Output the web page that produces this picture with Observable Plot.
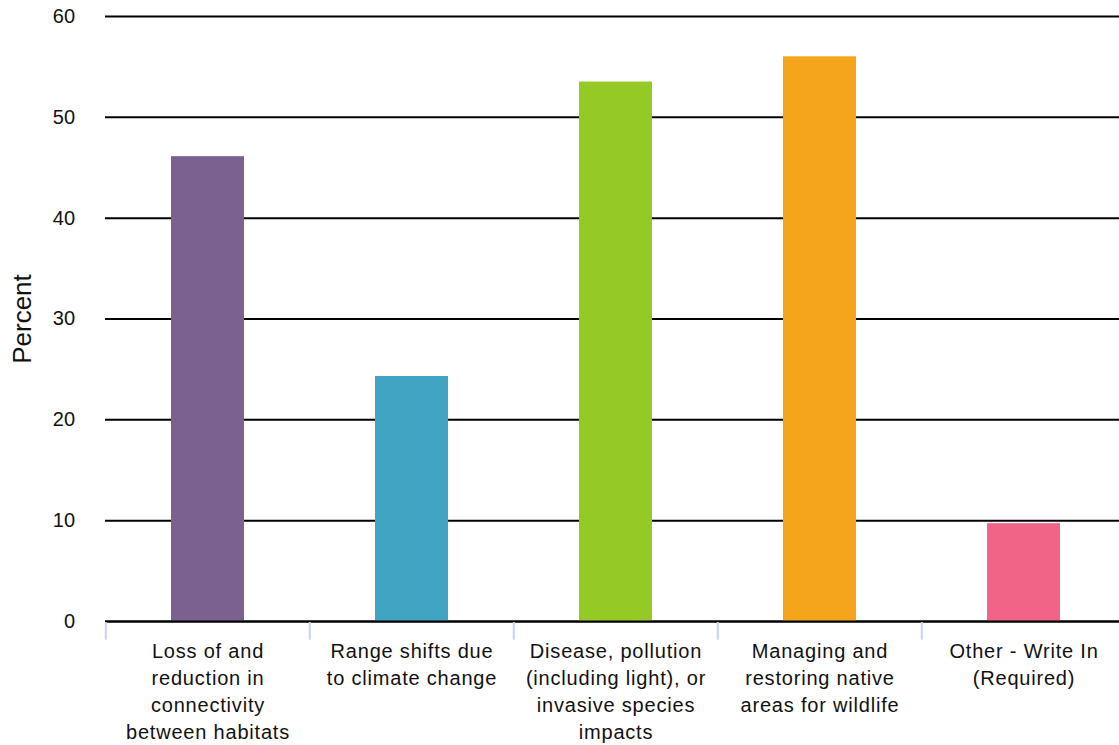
<!DOCTYPE html>
<html>
<head>
<meta charset="utf-8">
<script src="https://cdn.jsdelivr.net/npm/d3@7"></script>
<script src="https://cdn.jsdelivr.net/npm/@observablehq/plot@0.6"></script>
<style>
  html, body { margin: 0; padding: 0; background: #fff; overflow: hidden; }
  #chart svg { display: block; }
  #chart g[aria-label="x-axis tick label"] { font-size: 20px; letter-spacing: 0.8px; }
  #chart g[aria-label="y-axis tick label"] { font-size: 20px; letter-spacing: 0.3px; }
</style>
</head>
<body>
<div id="chart"></div>
<script>
const categories = [
  "Loss of and reduction in connectivity between habitats",
  "Range shifts due to climate change",
  "Disease, pollution (including light), or invasive species impacts",
  "Managing and restoring native areas for wildlife",
  "Other - Write In (Required)"
];
const tickLabels = [
  "Loss of and\nreduction in\nconnectivity\nbetween habitats",
  "Range shifts due\nto climate change",
  "Disease, pollution\n(including light), or\ninvasive species\nimpacts",
  "Managing and\nrestoring native\nareas for wildlife",
  "Other - Write In\n(Required)"
];
const values = [46.1, 24.3, 53.5, 56.0, 9.7];
const colors = ["#7b6190", "#41a4c3", "#94c926", "#f4a51c", "#f06487"];
const yTicks = [0, 10, 20, 30, 40, 50, 60];

const data = categories.map((c, i) => ({category: c, value: values[i], label: tickLabels[i]}));

const W = 1119, H = 745, ML = 105, MR = -8, MT = 16, MB = 124;
const step = (W - ML - MR) / categories.length;

const chart = Plot.plot({
  width: W,
  height: H,
  marginLeft: ML,
  marginRight: MR,
  marginTop: MT,
  marginBottom: MB,
  style: {fontFamily: "'Liberation Sans', Arial, sans-serif", background: "#fff", color: "#111"},
  x: {domain: categories, paddingInner: 0.64, paddingOuter: 0.32, label: null},
  y: {domain: [0, 60], ticks: yTicks, label: null},
  color: {domain: categories, range: colors},
  marks: [
    Plot.gridY(yTicks, {stroke: "#000", strokeOpacity: 1, strokeWidth: 2}),
    Plot.barY(data, {x: "category", y: "value", fill: "category"}),
    Plot.ruleY([0], {stroke: "#000", strokeWidth: 2}),
    Plot.ruleX(categories, {x: d => d, dx: -step / 2, y1: -0.1, y2: -1.85, stroke: "#c8d3e8", strokeWidth: 2}),
    Plot.axisY(yTicks, {tickSize: 0, tickPadding: 30, fontSize: 20, label: null}),
    Plot.axisX({
      tickSize: 0,
      tickPadding: 17,
      fontSize: 20,
      lineHeight: 1.35,
      tickFormat: (d) => tickLabels[categories.indexOf(d)],
      label: null
    }),
    Plot.text(["Percent"], {frameAnchor: "left", textAnchor: "middle", dx: -83, rotate: -90, fontSize: 26, fill: "#111"})
  ]
});

document.getElementById("chart").appendChild(chart);
</script>
</body>
</html>
